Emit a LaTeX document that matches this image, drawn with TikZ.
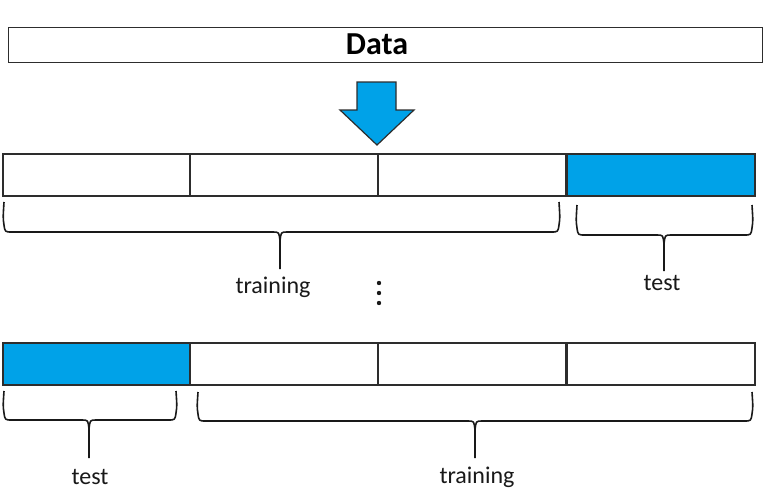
\documentclass[tikz,border=0pt]{standalone}
\usepackage{fontspec}
\setmainfont{Carlito}
\definecolor{cvblue}{RGB}{0,162,232}
\definecolor{edge}{RGB}{45,45,45}
\definecolor{bredge}{RGB}{25,25,25}
\tikzset{
  cell/.style={draw=edge, line width=1.2pt, fill=white, minimum width=188pt, minimum height=42pt, inner sep=0pt, outer sep=0pt, anchor=north west},
  testcell/.style={cell, fill=cvblue},
  bracep/.style={draw=bredge, line width=1.6pt, line join=round},
  lab/.style={font=\fontsize{24}{28}\selectfont, text=black!90, inner sep=0pt},
}
\newcommand{\mybrace}[6]{% x1 x2 xc ytop yh ytip
  \draw[bracep] (#1,#4) .. controls (#1-1,#5-14) .. (#1,#5-7) .. controls (#1+1,#5) .. (#1+8,#5) -- (#3-7,#5) .. controls (#3-1,#5) .. (#3,#5+9) -- (#3,#6);
  \draw[bracep] (#3,#5+9) .. controls (#3+1,#5) .. (#3+7,#5) -- (#2-8,#5) .. controls (#2-1,#5) .. (#2,#5-7) .. controls (#2+1,#5-14) .. (#2,#4);
}
\begin{document}
\begin{tikzpicture}[x=1pt,y=-1pt]
\useasboundingbox[fill=white] (0,0) rectangle (769,493);
% Data box
\node[draw=edge, line width=1.2pt, fill=white, minimum width=754pt, minimum height=35pt, inner sep=0pt, anchor=north west] (data) at (8,27) {};
\node[font=\bfseries\fontsize{32}{36}\selectfont, inner sep=0pt] (datalabel) at (377,44) {Data};
% arrow
\draw[edge, line width=1.2pt, fill=cvblue, line join=miter]
  (357,82) -- (396,82) -- (396,110) -- (414,110) -- (377,145) -- (340,110) -- (357,110) -- cycle;
% row 1
\node[cell] (a1) at (3,154) {};
\node[cell] (a2) at (190,154) {};
\node[cell] (a3) at (378,154) {};
\node[testcell] (a4) at (567,154) {};
\mybrace{4}{559}{280}{202}{232}{269}
\mybrace{577}{752}{664}{205}{235}{271}
\node[lab] (tr1) at (273,287) {training};
\node[lab] (te1) at (662,283) {test};
% vertical dots
\foreach \yy in {283,293,303} \fill[bredge] (379,\yy) circle (2.2pt);
% row 2
\node[testcell] (b1) at (3,343) {};
\node[cell] (b2) at (190,343) {};
\node[cell] (b3) at (378,343) {};
\node[cell] (b4) at (567,343) {};
\mybrace{4}{176}{89}{391}{420}{458}
\mybrace{198}{752}{475}{392}{421}{458}
\node[lab] (te2) at (90,477) {test};
\node[lab] (tr2) at (477,477) {training};
\end{tikzpicture}
\end{document}
